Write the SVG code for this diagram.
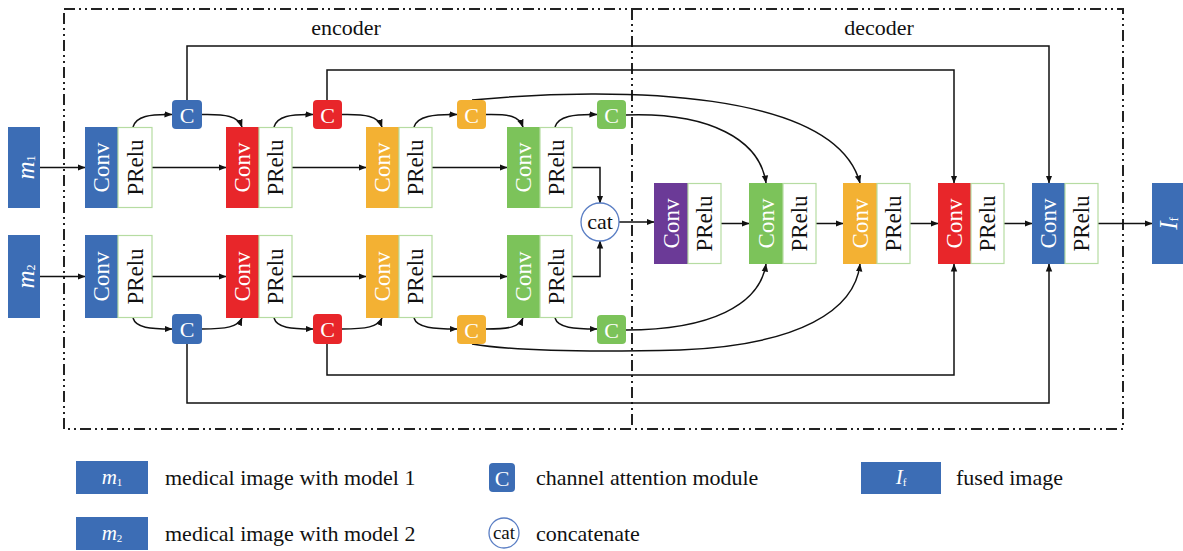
<svg xmlns="http://www.w3.org/2000/svg" width="1183" height="551" viewBox="0 0 1183 551">
<style>
.t{font-family:"Liberation Serif","DejaVu Serif",serif;}
.cv{font-family:"Liberation Serif","DejaVu Serif",serif;font-size:23px;fill:#fff;text-anchor:middle;dominant-baseline:central;}
.pr{font-family:"Liberation Serif","DejaVu Serif",serif;font-size:23px;fill:#111;text-anchor:middle;dominant-baseline:central;}
.ct{font-family:"Liberation Serif","DejaVu Serif",serif;font-size:22px;fill:#fff;text-anchor:middle;dominant-baseline:central;}
.lg{font-family:"Liberation Serif","DejaVu Serif",serif;font-size:22px;fill:#111;}
.prb{fill:#fff;stroke:#b6dca2;stroke-width:1.2;}
.blue{fill:#3c6db5;}
.red{fill:#e8262a;}
.orange{fill:#f3b133;}
.green{fill:#7cc35a;}
.purple{fill:#6b3a97;}
.border{fill:none;stroke:#222;stroke-width:2;stroke-dasharray:11 4 2 4 2 4;}
.ln{fill:none;stroke:#111;stroke-width:1.5;}
.cat{fill:#fff;stroke:#5a7ec4;stroke-width:1.3;}
</style>
<defs>
<marker id="ah" viewBox="0 0 8 8" refX="7.5" refY="4" markerWidth="8" markerHeight="8" markerUnits="userSpaceOnUse" orient="auto">
<path d="M0,0.8 L8,4 L0,7.2 Z" fill="#111"/>
</marker>
</defs>
<rect width="1183" height="551" fill="#fff"/>

<g id="frames">
<rect class="border" x="64" y="9" width="1059" height="420"/>
<line class="border" x1="632" y1="9" x2="632" y2="429"/>
<text class="t" x="346" y="35" font-size="22" text-anchor="middle" fill="#111">encoder</text>
<text class="t" x="879" y="35" font-size="22" text-anchor="middle" fill="#111">decoder</text>
</g>

<g id="connectors">
<path class="ln" marker-end="url(#ah)" d="M40,167.5 H85"/>
<path class="ln" marker-end="url(#ah)" d="M152,167.5 H226"/>
<path class="ln" marker-end="url(#ah)" d="M292,167.5 H366"/>
<path class="ln" marker-end="url(#ah)" d="M432,167.5 H507"/>
<path class="ln" marker-end="url(#ah)" d="M40,276.5 H85"/>
<path class="ln" marker-end="url(#ah)" d="M152,276.5 H226"/>
<path class="ln" marker-end="url(#ah)" d="M292,276.5 H366"/>
<path class="ln" marker-end="url(#ah)" d="M432,276.5 H507"/>
<path class="ln" marker-end="url(#ah)" d="M572,167.5 H600 V203"/>
<path class="ln" marker-end="url(#ah)" d="M572,276.5 H600 V241"/>
<path class="ln" marker-end="url(#ah)" d="M619,222 H654"/>
<path class="ln" marker-end="url(#ah)" d="M721,223.5 H749"/>
<path class="ln" marker-end="url(#ah)" d="M816,223.5 H843"/>
<path class="ln" marker-end="url(#ah)" d="M910,223.5 H938"/>
<path class="ln" marker-end="url(#ah)" d="M1004,223.5 H1032"/>
<path class="ln" marker-end="url(#ah)" d="M1098,223.5 H1152"/>
<path class="ln" marker-end="url(#ah)" d="M133,127 C136,116 150,114 172,114.5"/>
<path class="ln" marker-end="url(#ah)" d="M202,114.5 C226,114 238,116 242,127"/>
<path class="ln" marker-end="url(#ah)" d="M274,127 C277,116 291,114 313,114.5"/>
<path class="ln" marker-end="url(#ah)" d="M342,114.5 C366,114 378,116 382,127"/>
<path class="ln" marker-end="url(#ah)" d="M414,127 C417,116 434,114 457,114.5"/>
<path class="ln" marker-end="url(#ah)" d="M486,114.5 C510,114 519,116 523,127"/>
<path class="ln" marker-end="url(#ah)" d="M555,127 C558,116 574,114 597,114.5"/>
<path class="ln" marker-end="url(#ah)" d="M133,318 C136,328 150,329 172,329"/>
<path class="ln" marker-end="url(#ah)" d="M202,329 C226,329 238,327 242,318"/>
<path class="ln" marker-end="url(#ah)" d="M274,318 C277,328 291,329 313,329"/>
<path class="ln" marker-end="url(#ah)" d="M342,329 C366,329 378,327 382,318"/>
<path class="ln" marker-end="url(#ah)" d="M414,318 C417,328 434,329 457,329"/>
<path class="ln" marker-end="url(#ah)" d="M486,329 C510,329 519,327 523,318"/>
<path class="ln" marker-end="url(#ah)" d="M555,318 C558,328 574,329 597,329"/>
<path class="ln" marker-end="url(#ah)" d="M626,115 C710,112 760,140 766,183"/>
<path class="ln" marker-end="url(#ah)" d="M472,100 C620,86 835,90 860,183"/>
<path class="ln" marker-end="url(#ah)" d="M327,100 V70 H954 V183"/>
<path class="ln" marker-end="url(#ah)" d="M187,100 V46 H1049 V183"/>
<path class="ln" marker-end="url(#ah)" d="M626,330 C710,330 760,305 766,264"/>
<path class="ln" marker-end="url(#ah)" d="M472,344 C520,352 600,352 680,350 C800,345 855,310 860,264"/>
<path class="ln" marker-end="url(#ah)" d="M327,344 V375 H954 V264"/>
<path class="ln" marker-end="url(#ah)" d="M187,344 V403 H1049 V264"/>
</g>

<g id="input-m1">
<rect class="blue" x="8" y="127" width="32" height="81"/>
<text class="t" transform="translate(25,167.5) rotate(-90)" font-size="25" fill="#fff" text-anchor="middle" dominant-baseline="central"><tspan font-style="italic">m</tspan><tspan font-size="12" dy="6">1</tspan></text>
</g>
<g id="input-m2">
<rect class="blue" x="8" y="235" width="32" height="83"/>
<text class="t" transform="translate(25,276.5) rotate(-90)" font-size="25" fill="#fff" text-anchor="middle" dominant-baseline="central"><tspan font-style="italic">m</tspan><tspan font-size="12" dy="6">2</tspan></text>
</g>

<g id="enc1-b1">
<rect class="blue" x="85" y="127" width="33" height="81"/>
<rect class="prb" x="118" y="127.5" width="34" height="80"/>
<text class="cv" transform="translate(101.5,167.5) rotate(-90)">Conv</text>
<text class="pr" transform="translate(135,167.5) rotate(-90)">PRelu</text>
</g>
<g id="enc1-b2">
<rect class="red" x="226" y="127" width="33" height="81"/>
<rect class="prb" x="259" y="127.5" width="33" height="80"/>
<text class="cv" transform="translate(242.5,167.5) rotate(-90)">Conv</text>
<text class="pr" transform="translate(275.5,167.5) rotate(-90)">PRelu</text>
</g>
<g id="enc1-b3">
<rect class="orange" x="366" y="127" width="33" height="81"/>
<rect class="prb" x="399" y="127.5" width="33" height="80"/>
<text class="cv" transform="translate(382.5,167.5) rotate(-90)">Conv</text>
<text class="pr" transform="translate(415.5,167.5) rotate(-90)">PRelu</text>
</g>
<g id="enc1-b4">
<rect class="green" x="507" y="127" width="33" height="81"/>
<rect class="prb" x="540" y="127.5" width="32" height="80"/>
<text class="cv" transform="translate(523.5,167.5) rotate(-90)">Conv</text>
<text class="pr" transform="translate(556,167.5) rotate(-90)">PRelu</text>
</g>
<g id="enc2-b1">
<rect class="blue" x="85" y="235" width="33" height="83"/>
<rect class="prb" x="118" y="235.5" width="34" height="82"/>
<text class="cv" transform="translate(101.5,276.5) rotate(-90)">Conv</text>
<text class="pr" transform="translate(135,276.5) rotate(-90)">PRelu</text>
</g>
<g id="enc2-b2">
<rect class="red" x="226" y="235" width="33" height="83"/>
<rect class="prb" x="259" y="235.5" width="33" height="82"/>
<text class="cv" transform="translate(242.5,276.5) rotate(-90)">Conv</text>
<text class="pr" transform="translate(275.5,276.5) rotate(-90)">PRelu</text>
</g>
<g id="enc2-b3">
<rect class="orange" x="366" y="235" width="33" height="83"/>
<rect class="prb" x="399" y="235.5" width="33" height="82"/>
<text class="cv" transform="translate(382.5,276.5) rotate(-90)">Conv</text>
<text class="pr" transform="translate(415.5,276.5) rotate(-90)">PRelu</text>
</g>
<g id="enc2-b4">
<rect class="green" x="507" y="235" width="33" height="83"/>
<rect class="prb" x="540" y="235.5" width="32" height="82"/>
<text class="cv" transform="translate(523.5,276.5) rotate(-90)">Conv</text>
<text class="pr" transform="translate(556,276.5) rotate(-90)">PRelu</text>
</g>

<g id="c1-blue"><rect class="blue" x="172" y="100" width="30" height="29" rx="4"/><text class="ct" x="187" y="115">C</text></g>
<g id="c1-red"><rect class="red" x="313" y="100" width="29" height="29" rx="4"/><text class="ct" x="327.5" y="115">C</text></g>
<g id="c1-orange"><rect class="orange" x="457" y="100" width="29" height="29" rx="4"/><text class="ct" x="471.5" y="115">C</text></g>
<g id="c1-green"><rect class="green" x="597" y="100" width="29" height="29" rx="4"/><text class="ct" x="611.5" y="115">C</text></g>
<g id="c2-blue"><rect class="blue" x="172" y="314" width="30" height="30" rx="4"/><text class="ct" x="187" y="329.5">C</text></g>
<g id="c2-red"><rect class="red" x="313" y="314" width="29" height="30" rx="4"/><text class="ct" x="327.5" y="329.5">C</text></g>
<g id="c2-orange"><rect class="orange" x="457" y="315" width="29" height="29" rx="4"/><text class="ct" x="471.5" y="330">C</text></g>
<g id="c2-green"><rect class="green" x="597" y="315" width="29" height="29" rx="4"/><text class="ct" x="611.5" y="330">C</text></g>

<g id="cat">
<circle class="cat" cx="600" cy="222" r="19"/>
<text class="t" x="600" y="221" font-size="22" fill="#111" text-anchor="middle" dominant-baseline="central">cat</text>
</g>

<g id="dec-b1">
<rect class="purple" x="654" y="183" width="34" height="81"/>
<rect class="prb" x="688" y="183.5" width="33" height="80"/>
<text class="cv" transform="translate(671,223.5) rotate(-90)">Conv</text>
<text class="pr" transform="translate(704.5,223.5) rotate(-90)">PRelu</text>
</g>
<g id="dec-b2">
<rect class="green" x="749" y="183" width="34" height="81"/>
<rect class="prb" x="783" y="183.5" width="33" height="80"/>
<text class="cv" transform="translate(766,223.5) rotate(-90)">Conv</text>
<text class="pr" transform="translate(799.5,223.5) rotate(-90)">PRelu</text>
</g>
<g id="dec-b3">
<rect class="orange" x="843" y="183" width="34" height="81"/>
<rect class="prb" x="877" y="183.5" width="33" height="80"/>
<text class="cv" transform="translate(860,223.5) rotate(-90)">Conv</text>
<text class="pr" transform="translate(893.5,223.5) rotate(-90)">PRelu</text>
</g>
<g id="dec-b4">
<rect class="red" x="938" y="183" width="33" height="81"/>
<rect class="prb" x="971" y="183.5" width="33" height="80"/>
<text class="cv" transform="translate(954.5,223.5) rotate(-90)">Conv</text>
<text class="pr" transform="translate(987.5,223.5) rotate(-90)">PRelu</text>
</g>
<g id="dec-b5">
<rect class="blue" x="1032" y="183" width="33" height="81"/>
<rect class="prb" x="1065" y="183.5" width="33" height="80"/>
<text class="cv" transform="translate(1048.5,223.5) rotate(-90)">Conv</text>
<text class="pr" transform="translate(1081.5,223.5) rotate(-90)">PRelu</text>
</g>

<g id="output-If">
<rect class="blue" x="1152" y="183" width="31" height="81"/>
<text class="t" transform="translate(1168,223.5) rotate(-90)" font-size="25" fill="#fff" text-anchor="middle" dominant-baseline="central"><tspan font-style="italic">I</tspan><tspan font-size="12" dy="6">f</tspan></text>
</g>

<g id="legend-m1">
<rect class="blue" x="76" y="461" width="72" height="33"/>
<text class="t" x="112" y="477" font-size="21" fill="#fff" text-anchor="middle" dominant-baseline="central"><tspan font-style="italic">m</tspan><tspan font-size="11" dy="5">1</tspan></text>
<text class="lg" x="165" y="485">medical image with model 1</text>
</g>
<g id="legend-m2">
<rect class="blue" x="76" y="517" width="72" height="33"/>
<text class="t" x="112" y="533" font-size="21" fill="#fff" text-anchor="middle" dominant-baseline="central"><tspan font-style="italic">m</tspan><tspan font-size="11" dy="5">2</tspan></text>
<text class="lg" x="165" y="541">medical image with model 2</text>
</g>
<g id="legend-c">
<rect class="blue" x="489" y="463" width="26" height="29" rx="4"/>
<text class="ct" x="502" y="478">C</text>
<text class="lg" x="536" y="485">channel attention module</text>
</g>
<g id="legend-cat">
<circle class="cat" cx="504" cy="533" r="15"/>
<text class="t" x="504" y="532" font-size="19" fill="#111" text-anchor="middle" dominant-baseline="central">cat</text>
<text class="lg" x="536" y="541">concatenate</text>
</g>
<g id="legend-If">
<rect class="blue" x="861" y="462" width="80" height="32"/>
<text class="t" x="901" y="477" font-size="21" fill="#fff" text-anchor="middle" dominant-baseline="central"><tspan font-style="italic">I</tspan><tspan font-size="11" dy="5">f</tspan></text>
<text class="lg" x="956" y="485">fused image</text>
</g>
</svg>
